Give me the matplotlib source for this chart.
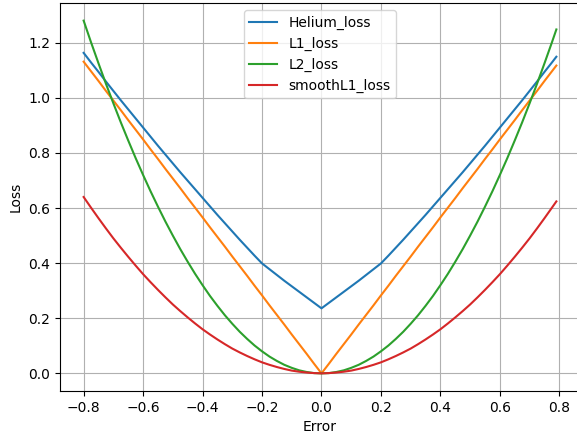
import matplotlib
matplotlib.use("Agg")
import matplotlib.pyplot as plt

x = [-0.800, -0.775, -0.750, -0.725, -0.700, -0.675, -0.650, -0.625, -0.600, -0.575,
     -0.550, -0.525, -0.500, -0.475, -0.450, -0.425, -0.400, -0.375, -0.350, -0.325,
     -0.300, -0.275, -0.250, -0.225, -0.200, -0.175, -0.150, -0.125, -0.100, -0.075,
     -0.050, -0.025, 0.000, 0.025, 0.050, 0.075, 0.100, 0.125, 0.150, 0.175, 0.200,
     0.225, 0.250, 0.275, 0.300, 0.325, 0.350, 0.375, 0.400, 0.425, 0.450, 0.475,
     0.500, 0.525, 0.550, 0.575, 0.600, 0.625, 0.650, 0.675, 0.700, 0.725, 0.750,
     0.775, 0.790]

helium_loss = [1.163, 1.128, 1.094, 1.059, 1.025, 0.991, 0.958, 0.925, 0.892, 0.859,
               0.826, 0.794, 0.762, 0.730, 0.699, 0.668, 0.637, 0.606, 0.575, 0.545,
               0.515, 0.485, 0.456, 0.427, 0.399, 0.378, 0.357, 0.336, 0.316, 0.296,
               0.276, 0.256, 0.236, 0.256, 0.276, 0.296, 0.316, 0.336, 0.357, 0.378,
               0.399, 0.427, 0.456, 0.485, 0.515, 0.545, 0.575, 0.606, 0.637, 0.668,
               0.699, 0.730, 0.762, 0.794, 0.826, 0.859, 0.892, 0.925, 0.958, 0.991,
               1.025, 1.059, 1.094, 1.128, 1.149]

l1_loss = [1.131, 1.096, 1.061, 1.025, 0.990, 0.955, 0.919, 0.884, 0.849, 0.813,
           0.778, 0.742, 0.707, 0.672, 0.636, 0.601, 0.566, 0.530, 0.495, 0.460,
           0.424, 0.389, 0.354, 0.318, 0.283, 0.247, 0.212, 0.177, 0.141, 0.106,
           0.071, 0.035, 0.000, 0.035, 0.071, 0.106, 0.141, 0.177, 0.212, 0.247,
           0.283, 0.318, 0.354, 0.389, 0.424, 0.460, 0.495, 0.530, 0.566, 0.601,
           0.636, 0.672, 0.707, 0.742, 0.778, 0.813, 0.849, 0.884, 0.919, 0.955,
           0.990, 1.025, 1.061, 1.096, 1.117]

l2_loss = [1.280, 1.201, 1.125, 1.051, 0.980, 0.911, 0.845, 0.781, 0.720, 0.661,
           0.605, 0.551, 0.500, 0.451, 0.405, 0.361, 0.320, 0.281, 0.245, 0.211,
           0.180, 0.151, 0.125, 0.101, 0.080, 0.061, 0.045, 0.031, 0.020, 0.011,
           0.005, 0.001, 0.000, 0.001, 0.005, 0.011, 0.020, 0.031, 0.045, 0.061,
           0.080, 0.101, 0.125, 0.151, 0.180, 0.211, 0.245, 0.281, 0.320, 0.361,
           0.405, 0.451, 0.500, 0.551, 0.605, 0.661, 0.720, 0.781, 0.845, 0.911,
           0.980, 1.051, 1.125, 1.201, 1.248]

smoothl1_loss = [0.640, 0.601, 0.563, 0.526, 0.490, 0.456, 0.423, 0.391, 0.360, 0.331,
                 0.303, 0.276, 0.250, 0.226, 0.203, 0.181, 0.160, 0.141, 0.123, 0.106,
                 0.090, 0.076, 0.063, 0.051, 0.040, 0.031, 0.023, 0.016, 0.010, 0.006,
                 0.003, 0.001, 0.000, 0.001, 0.003, 0.006, 0.010, 0.016, 0.023, 0.031,
                 0.040, 0.051, 0.063, 0.076, 0.090, 0.106, 0.123, 0.141, 0.160, 0.181,
                 0.203, 0.226, 0.250, 0.276, 0.303, 0.331, 0.360, 0.391, 0.423, 0.456,
                 0.490, 0.526, 0.563, 0.601, 0.624]

fig = plt.figure(figsize=(5.77, 4.36), dpi=100)
ax = fig.add_axes([60/577, 1 - 391/436, (580 - 60)/577, (391 - 3)/436])
ax.plot(x, helium_loss, label="Helium_loss")
ax.plot(x, l1_loss, label="L1_loss")
ax.plot(x, l2_loss, label="L2_loss")
ax.plot(x, smoothl1_loss, label="smoothL1_loss")
ax.set_xlabel("Error")
ax.set_ylabel("Loss")
ax.grid(True)
ax.legend(loc="upper center")
fig.savefig("out.png", dpi=100)
